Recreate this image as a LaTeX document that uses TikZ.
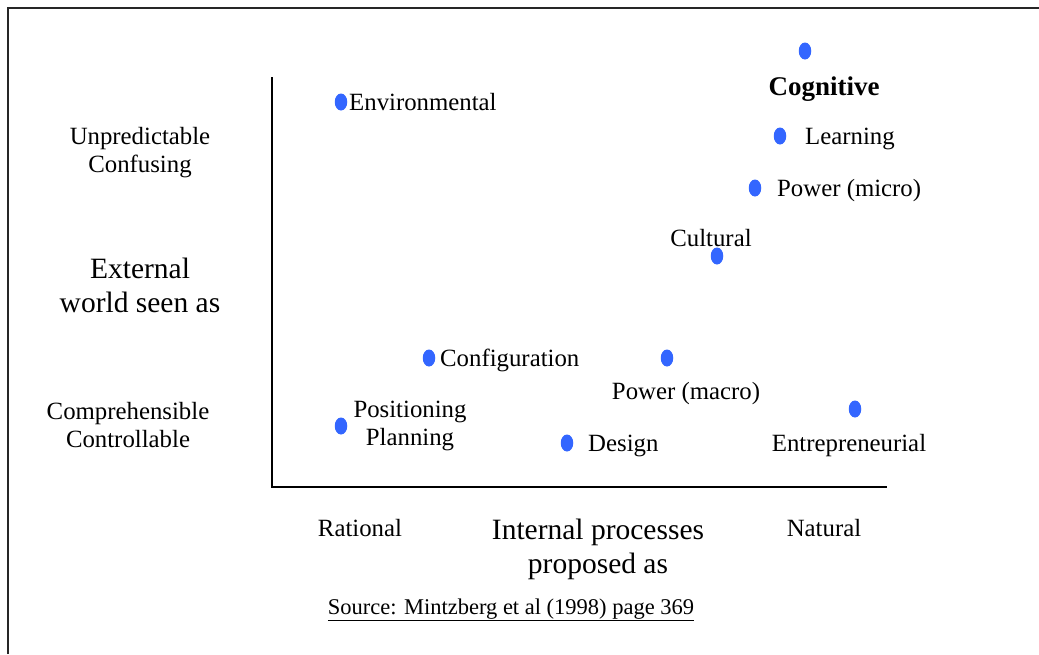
\documentclass[tikz,border=0pt]{standalone}
\usepackage{fontspec}
\setmainfont{Liberation Serif}
\usetikzlibrary{shapes.geometric}
\begin{document}
\begin{tikzpicture}[x=1pt,y=-1pt,
  dot/.style={ellipse, draw=none, fill=dotblue, minimum width=12.5pt, minimum height=17pt, inner sep=0pt},
  lbl/.style={inner sep=0pt, yshift=-2.5pt, font=\fontsize{24.8}{28}\selectfont, align=center},
  big/.style={inner sep=0pt, font=\fontsize{29.5}{34}\selectfont, align=center},
  axis/.style={line width=1.6pt, black},
  frame/.style={line width=2.2pt, black!85}]
\definecolor{dotblue}{HTML}{3366FF}
\useasboundingbox (0,0) rectangle (1039,654);
% page frame (top and left edges)
\coordinate (fl) at (8,654);
\coordinate (fc) at (8,8);
\coordinate (fr) at (1039,8);
\draw[frame] (fl) -- (fc) -- (fr);
% axes
\coordinate (ytop) at (272,77);
\coordinate (orig) at (272,487);
\coordinate (xend) at (887,487);
\draw[axis] (ytop) -- (orig) -- (xend);
% markers
\node[dot] (dCog) at (805,51) {};
\node[dot] (dEnv) at (341,102) {};
\node[dot] (dLrn) at (780,136) {};
\node[dot] (dPmi) at (755,188) {};
\node[dot] (dCul) at (717,256) {};
\node[dot] (dCfg) at (429,358) {};
\node[dot] (dPma) at (667,358) {};
\node[dot] (dEnt) at (855,409) {};
\node[dot] (dPos) at (341,426) {};
\node[dot] (dDes) at (567,443) {};
% school labels
\node[lbl, font=\fontsize{27}{30}\bfseries] (tCog) at (824,87) {Cognitive};
\node[lbl, anchor=west] (tEnv) at (349,100) {Environmental};
\node[lbl, anchor=west] (tLrn) at (805,136) {Learning};
\node[lbl, anchor=west] (tPmi) at (777,188) {Power (micro)};
\node[lbl] (tCul) at (711,236) {Cultural};
\node[lbl, anchor=west] (tCfg) at (440,358) {Configuration};
\node[lbl] (tPma) at (686,391) {Power (macro)};
\node[lbl] (tEnt) at (849,443) {Entrepreneurial};
\node[lbl] (tPos) at (410,423) {Positioning\\Planning};
\node[lbl, anchor=west] (tDes) at (588,443) {Design};
% axis descriptions
\node[lbl] (yHi) at (140,150) {Unpredictable\\Confusing};
\node[big] (yTitle) at (140,285) {External\\world seen as};
\node[lbl] (yLo) at (128,423) {Comprehensible\\Controllable};
\node[lbl] (xLo) at (360,526) {Rational};
\node[lbl] (xHi) at (824,526) {Natural};
\node[big] (xTitle) at (598,549) {Internal processes\\proposed as};
\node[inner sep=0pt, font=\fontsize{22.5}{26}\selectfont] (src) at (511,610) {\underline{Source: Mintzberg et al (1998) page 369}};
\end{tikzpicture}
\end{document}
